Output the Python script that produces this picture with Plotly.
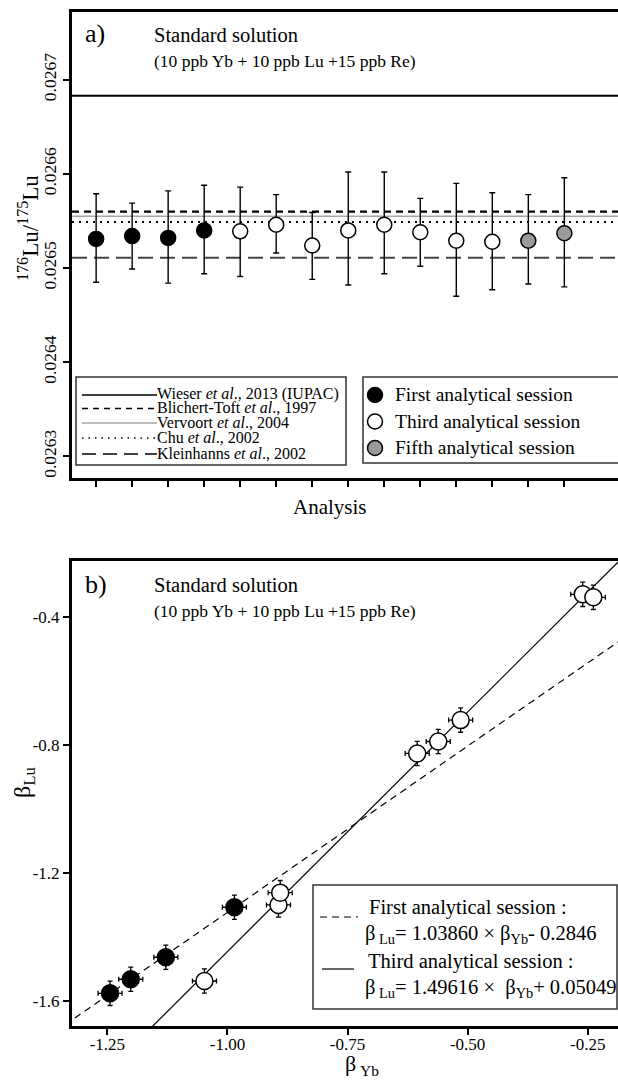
import plotly.graph_objects as go

W, H = 618, 1080
FONT = "Liberation Serif, Times New Roman, Times, serif"

# ---------------- Panel a data ----------------
ref_names = ["Wieser <i>et al</i>., 2013 (IUPAC)", "Blichert-Toft <i>et al</i>., 1997",
             "Vervoort <i>et al</i>., 2004", "Chu <i>et al</i>., 2002",
             "Kleinhanns <i>et al</i>., 2002"]
ref_values = [0.026683, 0.026560, 0.026555, 0.026549, 0.026511]

first_idx = [1, 2, 3, 4]
first_val = [0.026531, 0.026534, 0.026532, 0.026540]
first_top = [0.026579, 0.026569, 0.026582, 0.026588]
first_bot = [0.026485, 0.026499, 0.026484, 0.026494]

third_idx = [5, 6, 7, 8, 9, 10, 11, 12]
third_val = [0.026539, 0.026546, 0.026524, 0.026540, 0.026546, 0.026538, 0.026529, 0.026528]
third_top = [0.026586, 0.026578, 0.026559, 0.026602, 0.026602, 0.026574, 0.026590, 0.026580]
third_bot = [0.026491, 0.026516, 0.026488, 0.026482, 0.026494, 0.026502, 0.026470, 0.026477]

fifth_idx = [13, 14]
fifth_val = [0.026529, 0.026537]
fifth_top = [0.026578, 0.026596]
fifth_bot = [0.026483, 0.026480]

a_yticks = [0.0263, 0.0264, 0.0265, 0.0266, 0.0267]
a_yticktext = ["0.0263", "0.0264", "0.0265", "0.0266", "0.0267"]

# ---------------- Panel b data ----------------
b_first_x = [-1.2444, -1.2013, -1.1283, -0.9855]
b_first_y = [-1.576, -1.532, -1.4634, -1.3072]
b_third_x = [-1.0479, -0.8938, -0.8902, -0.605, -0.5612, -0.5146, -0.2604, -0.2383]
b_third_y = [-1.5375, -1.300, -1.2616, -0.827, -0.7897, -0.7228, -0.330, -0.3394]
b_xerr = 0.025
b_yerr = 0.038

fit_first = (1.03860, -0.2846)
fit_third = (1.49616, 0.05049)
fit_x = [-1.40, -0.10]

b_xticks = [-1.25, -1.00, -0.75, -0.50, -0.25]
b_xticktext = ["-1.25", "-1.00", "-0.75", "-0.50", "-0.25"]
b_yticks = [-1.6, -1.2, -0.8, -0.4]
b_yticktext = ["-1.6", "-1.2", "-0.8", "-0.4"]


def px(x):
    return x / W


def py(y):
    return 1 - y / H


fig = go.Figure()


def err(vals, tops, bots):
    return dict(type="data", symmetric=False,
                array=[t - v for v, t in zip(vals, tops)],
                arrayminus=[v - b for v, b in zip(vals, bots)],
                color="black", thickness=1.4, width=3)


mk_line = dict(color="black", width=1.5)
fig.add_trace(go.Scatter(x=first_idx, y=first_val, mode="markers",
                         marker=dict(size=15, color="black", line=mk_line),
                         error_y=err(first_val, first_top, first_bot),
                         xaxis="x", yaxis="y", showlegend=False))
fig.add_trace(go.Scatter(x=third_idx, y=third_val, mode="markers",
                         marker=dict(size=15, color="white", line=mk_line),
                         error_y=err(third_val, third_top, third_bot),
                         xaxis="x", yaxis="y", showlegend=False))
fig.add_trace(go.Scatter(x=fifth_idx, y=fifth_val, mode="markers",
                         marker=dict(size=15, color="#9a9a9a", line=mk_line),
                         error_y=err(fifth_val, fifth_top, fifth_bot),
                         xaxis="x", yaxis="y", showlegend=False))

# Panel b fit lines
for (m, c), dash in [(fit_first, "7px,5px"), (fit_third, "solid")]:
    fig.add_trace(go.Scatter(x=fit_x, y=[m * x + c for x in fit_x], mode="lines",
                             line=dict(color="black", width=1.2, dash=dash),
                             xaxis="x2", yaxis="y2", showlegend=False, hoverinfo="skip"))

bx = dict(type="constant", value=b_xerr, color="black", thickness=1.3, width=2.5)
byy = dict(type="constant", value=b_yerr, color="black", thickness=1.3, width=2.5)
fig.add_trace(go.Scatter(x=b_first_x, y=b_first_y, mode="markers",
                         marker=dict(size=17, color="black", line=mk_line),
                         error_x=bx, error_y=byy, xaxis="x2", yaxis="y2", showlegend=False))
fig.add_trace(go.Scatter(x=b_third_x, y=b_third_y, mode="markers",
                         marker=dict(size=17, color="white", line=mk_line),
                         error_x=bx, error_y=byy, xaxis="x2", yaxis="y2", showlegend=False))

# Reference lines panel a
ref_styles = [
    dict(color="black", width=2, dash="solid"),
    dict(color="black", width=2.4, dash="7px,5px"),
    dict(color="#a8a8a8", width=1.6, dash="solid"),
    dict(color="black", width=2, dash="2px,5px"),
    dict(color="#444444", width=2, dash="15px,7px"),
]
shapes = []
for v, st in zip(ref_values, ref_styles):
    shapes.append(dict(type="line", xref="x domain", yref="y", x0=0, x1=1, y0=v, y1=v,
                       line=st, layer="below"))

# Legend a1 (lines)
shapes.append(dict(type="rect", xref="paper", yref="paper", x0=px(76), x1=px(346),
                   y0=py(377), y1=py(465), line=dict(color="#333", width=1.5)))
leg_a1_y = [395, 408.5, 423, 438, 454]
leg_line_styles = [
    dict(color="black", width=1.3, dash="solid"),
    dict(color="black", width=1.3, dash="6px,5px"),
    dict(color="#a8a8a8", width=1.3, dash="solid"),
    dict(color="black", width=1.3, dash="1.5px,5px"),
    dict(color="black", width=1.3, dash="14px,7px"),
]
annotations = []
for name, yy, st in zip(ref_names, leg_a1_y, leg_line_styles):
    shapes.append(dict(type="line", xref="paper", yref="paper", x0=px(82), x1=px(157),
                       y0=py(yy), y1=py(yy), line=st))
    annotations.append(dict(text=name, xref="paper", yref="paper", x=px(155), y=py(yy - 1),
                            xanchor="left", yanchor="middle", showarrow=False,
                            font=dict(family=FONT, size=16, color="black")))

# Legend a2 (markers)
shapes.append(dict(type="rect", xref="paper", yref="paper", x0=px(363), x1=px(630),
                   y0=py(377), y1=py(463), line=dict(color="#333", width=1.5)))
sess_names = ["First analytical session", "Third analytical session", "Fifth analytical session"]
sess_cols = ["black", "white", "#9a9a9a"]
sess_y = [395, 421.5, 448]
for name, col, yy in zip(sess_names, sess_cols, sess_y):
    shapes.append(dict(type="circle", xref="paper", yref="paper", xsizemode="pixel",
                       ysizemode="pixel", xanchor=px(375), yanchor=py(yy),
                       x0=-7.5, x1=7.5, y0=-7.5, y1=7.5, fillcolor=col,
                       line=dict(color="black", width=1.5)))
    annotations.append(dict(text=name, xref="paper", yref="paper", x=px(393), y=py(yy),
                            xanchor="left", yanchor="middle", showarrow=False,
                            font=dict(family=FONT, size=19.5, color="black")))

# Legend b
shapes.append(dict(type="rect", xref="paper", yref="paper", x0=px(313), x1=px(617),
                   y0=py(885), y1=py(1009), line=dict(color="#333", width=1.5)))
shapes.append(dict(type="line", xref="paper", yref="paper", x0=px(320), x1=px(358),
                   y0=py(917), y1=py(917), line=dict(color="black", width=1.2, dash="7px,5px")))
shapes.append(dict(type="line", xref="paper", yref="paper", x0=px(322), x1=px(354),
                   y0=py(969), y1=py(969), line=dict(color="black", width=1.2)))
leg_b = [
    ("First analytical session :", 367, 907),
    ("β<sub> Lu</sub>= 1.03860 × β<sub>Yb</sub>- 0.2846", 363, 934),
    ("Third analytical session :", 366, 961),
    ("β<sub> Lu</sub>= 1.49616 ×  β<sub>Yb</sub>+ 0.05049", 363, 988),
]
for t, xx, yy in leg_b:
    annotations.append(dict(text=t, xref="paper", yref="paper", x=px(xx), y=py(yy),
                            xanchor="left", yanchor="middle", showarrow=False,
                            font=dict(family=FONT, size=20.5, color="black")))

# Panel texts
for lab, ytop in [("a)", 0), ("b)", 550)]:
    annotations.append(dict(text=lab, xref="paper", yref="paper", x=px(83), y=py(ytop + 34),
                            xanchor="left", yanchor="middle", showarrow=False,
                            font=dict(family=FONT, size=26, color="black")))
    annotations.append(dict(text="Standard solution", xref="paper", yref="paper",
                            x=px(152), y=py(ytop + 35), xanchor="left", yanchor="middle",
                            showarrow=False, font=dict(family=FONT, size=20.5, color="black")))
    annotations.append(dict(text="(10 ppb Yb + 10 ppb Lu +15 ppb Re)", xref="paper",
                            yref="paper", x=px(152), y=py(ytop + 61), xanchor="left",
                            yanchor="middle", showarrow=False,
                            font=dict(family=FONT, size=17.5, color="black")))

# Axis titles
annotations.append(dict(text="Analysis", xref="paper", yref="paper", x=px(330), y=py(507),
                        xanchor="center", yanchor="middle",
                        showarrow=False, font=dict(family=FONT, size=21, color="black")))
annotations.append(dict(text="<sup>176</sup>Lu/<sup>175</sup>Lu", xref="paper", yref="paper",
                        x=px(28), y=py(228), textangle=-90, showarrow=False,
                        xanchor="center", yanchor="middle",
                        font=dict(family=FONT, size=23, color="black")))
annotations.append(dict(text="β<sub>Lu</sub>", xref="paper", yref="paper",
                        x=px(24), y=py(782), textangle=-90, showarrow=False,
                        xanchor="center", yanchor="middle",
                        font=dict(family=FONT, size=24, color="black")))
annotations.append(dict(text="β<sub> Yb</sub>", xref="paper", yref="paper",
                        x=px(362), y=py(1065), showarrow=False,
                        xanchor="center", yanchor="middle",
                        font=dict(family=FONT, size=22, color="black")))

axis_common = dict(showline=True, linewidth=3, linecolor="black", showgrid=False,
                   zeroline=False, ticks="outside", ticklen=6, tickwidth=1.5,
                   tickcolor="black")

fig.update_layout(
    width=W, height=H, margin=dict(l=0, r=0, t=0, b=0),
    paper_bgcolor="white", plot_bgcolor="white", showlegend=False,
    font=dict(family=FONT, color="black"),
    xaxis=dict(domain=[px(72), 1], range=[0.33, 15.49], tickvals=list(range(1, 15)),
               showticklabels=False, mirror=True, anchor="y", **axis_common),
    yaxis=dict(domain=[py(478), py(12)], range=[0.026277, 0.026772], tickvals=a_yticks,
               ticktext=a_yticktext, tickangle=-90, anchor="x",
               tickfont=dict(family=FONT, size=17.5, color="black"), **axis_common),
    xaxis2=dict(domain=[px(72), 1], range=[-1.3236, -0.187], tickvals=b_xticks,
                ticktext=b_xticktext, mirror=True, anchor="y2", ticklabelstandoff=-5,
                tickfont=dict(family=FONT, size=17, color="black"), **axis_common),
    yaxis2=dict(domain=[py(1026), py(561)], range=[-1.678, -0.226], tickvals=b_yticks,
                ticktext=b_yticktext, anchor="x2",
                tickfont=dict(family=FONT, size=17, color="black"), **axis_common),
    shapes=shapes, annotations=annotations,
)

fig.write_html("out.html", config={"displayModeBar": False},
               post_script="document.body.style.margin='0';"
                           "document.body.style.overflow='hidden';")
